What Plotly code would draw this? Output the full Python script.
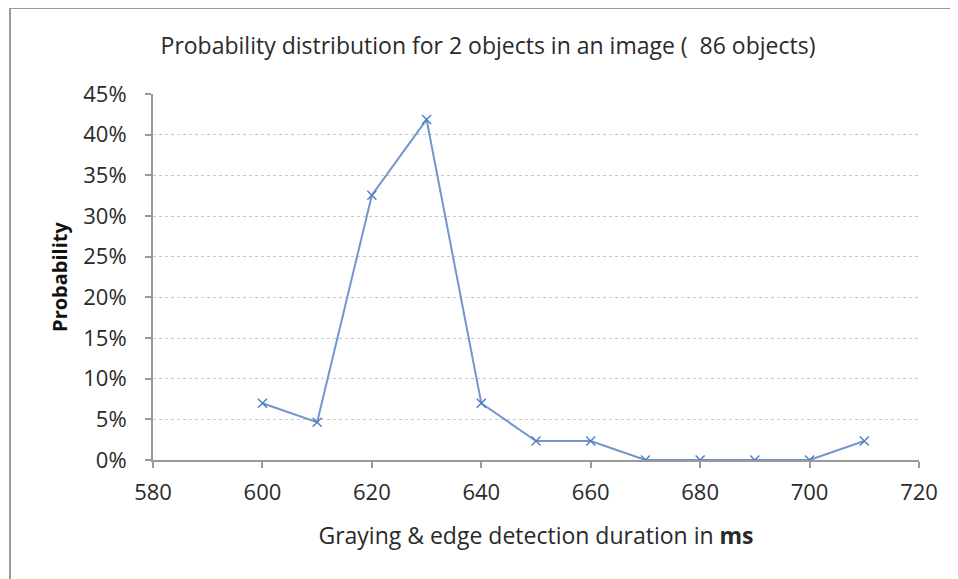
import plotly.graph_objects as go

durations = [600, 610, 620, 630, 640, 650, 660, 670, 680, 690, 700, 710]
probability = [0.0698, 0.0465, 0.3256, 0.4186, 0.0698, 0.0233, 0.0233, 0.0, 0.0, 0.0, 0.0, 0.0233]
x_ticks = [580, 600, 620, 640, 660, 680, 700, 720]
y_ticks = [0, 0.05, 0.10, 0.15, 0.20, 0.25, 0.30, 0.35, 0.40, 0.45]
y_tick_labels = ["0%", "5%", "10%", "15%", "20%", "25%", "30%", "35%", "40%", "45%"]

FONT = "Open Sans"
OFF = 8  # browser body margin
W, H = 958 - OFF, 579 - OFF
L, T = 153 - OFF, 94 - OFF
pw, ph = 766, 366
R, B = W - L - pw, H - T - ph

def px(x):
    return (x - OFF - L) / pw

def py(y):
    return (T + ph - (y - OFF)) / ph

fig = go.Figure()
fig.add_trace(go.Scatter(
    x=durations, y=probability, mode="lines+markers",
    line=dict(color="#7097CC", width=2),
    marker=dict(symbol="x-thin", size=9, line=dict(color="#4F7DBD", width=1.4), color="#4F7DBD"),
    showlegend=False,
))

fig.update_layout(
    width=W, height=H,
    margin=dict(l=L, r=R, t=T, b=B),
    paper_bgcolor="white", plot_bgcolor="white",
    title=dict(text="Probability distribution for 2 objects in an image (  86 objects)",
               x=px(488), xref="paper", xanchor="center", y=1 - (46 - OFF) / H, yanchor="middle",
               font=dict(family=FONT, size=23, color="#2a2a2a")),
    xaxis=dict(range=[580, 720], tickvals=x_ticks, showgrid=False, zeroline=False,
               showline=True, linecolor="#999", linewidth=2, ticks="outside", ticklen=6,
               tickcolor="#999", tickwidth=2, ticklabelstandoff=6,
               tickfont=dict(family=FONT, size=22, color="#2a2a2a"),
               title=dict(text="Graying & edge detection duration in <b>ms</b>",
                          font=dict(family=FONT, size=23, color="#2a2a2a"), standoff=22)),
    yaxis=dict(range=[0, 0.45], tickvals=y_ticks, ticktext=y_tick_labels,
               showgrid=True, gridcolor="#C8C8C8", griddash="dot", gridwidth=1,
               zeroline=False, showline=True, linecolor="#999", linewidth=2,
               ticks="outside", ticklen=6, tickcolor="#999", tickwidth=2, ticklabelstandoff=14,
               tickfont=dict(family=FONT, size=22, color="#2a2a2a"),
               title=dict(text="<b>Probability</b>", font=dict(family=FONT, size=20, color="#111"),
                          standoff=10)),
)

fig.add_shape(type="line", xref="paper", yref="paper", x0=px(10), x1=px(10), y0=py(8), y1=py(579),
              line=dict(color="#9A9A9A", width=2))
fig.add_shape(type="line", xref="paper", yref="paper", x0=px(10), x1=px(958), y0=py(8), y1=py(8),
              line=dict(color="#9A9A9A", width=2))

fig.write_html("out.html")
